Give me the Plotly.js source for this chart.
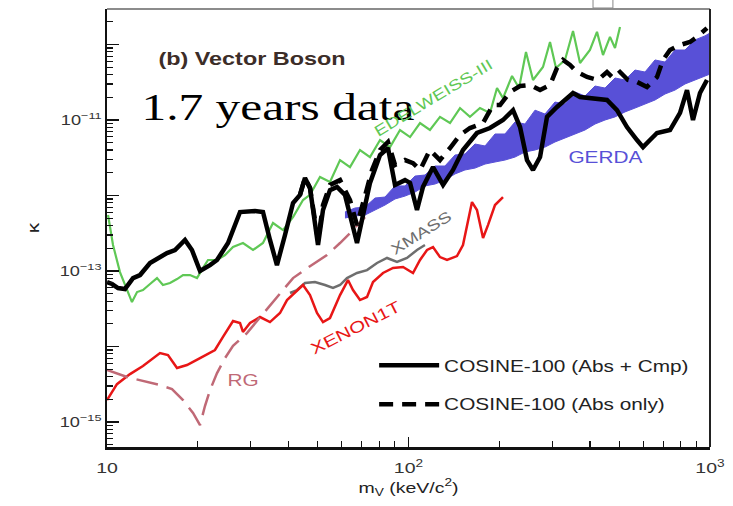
<!DOCTYPE html>
<html>
<head>
<meta charset="utf-8">
<script src="https://cdn.plot.ly/plotly-3.0.1.min.js"></script>
<style>
  html, body { margin: 0; padding: 0; background: #fff; }
  #chart { width: 733px; height: 506px; }
</style>
</head>
<body>
<div id="chart"></div>
<script>
// ---- Data (mass in keV/c^2, kappa dimensionless) ----
const cosineAbsCmpMass = [10.0,10.39,10.88,11.47,12.20,12.87,13.89,14.99,15.81,16.81,18.14,19.13,20.35,21.96,23.17,25.20,26.58,27.62,30.97,32.91,34.72,36.62,38.94,41.40,43.66,45.36,47.13,50.10,52.05,54.90,57.93,61.56,67.48,70.65,74.53,80.46,85.51,90.21,97.36,101.2,106.7,111.7,120.6,130.2,140.5,151.6,168.7,186.3,205.8,222.2,234.4,247.2,258.8,273.1,288.0,310.9,351.3,370.6,455.3,491.5,530.4,572.7,599.6,632.4,667.2,736.8,795.4,838.9,878.2,926.4,977.2];
const cosineAbsCmpKappa = [7.15e-14,6.73e-14,5.96e-14,5.78e-14,8.07e-14,8.85e-14,1.28e-13,1.53e-13,1.73e-13,1.90e-13,2.58e-13,1.90e-13,1.0e-13,1.20e-13,1.40e-13,2.35e-13,4.06e-13,6.04e-13,6.23e-13,6.04e-13,2.58e-13,1.20e-13,3.0e-13,7.96e-13,1.02e-12,1.71e-12,1.26e-12,2.21e-13,6.43e-13,1.18e-12,1.30e-12,1.02e-12,2.35e-13,5.52e-13,1.47e-12,3.44e-12,4.26e-12,1.38e-12,1.60e-12,1.47e-12,6.43e-13,1.30e-12,2.38e-12,1.38e-12,2.18e-12,4.01e-12,6.73e-12,7.83e-12,1.0e-11,1.35e-11,8.07e-12,2.95e-12,2.18e-12,3.23e-12,1.10e-11,1.49e-11,2.28e-11,2.02e-11,1.84e-11,1.35e-11,8.07e-12,5.43e-12,4.38e-12,5.43e-12,6.73e-12,7.37e-12,1.24e-11,2.49e-11,1.0e-11,2.28e-11,3.39e-11];

const cosineAbsOnlyMass = [43.66,45.36,47.13,50.10,52.05,54.90,59.28,63.97,67.48,71.74,75.69,80.46,85.51,90.21,97.36,103.5,109.2,117.8,127.2,137.3,148.2,159.9,176.7,190.7,201.2,217.1,234.4,252.9,273.1,294.7,310.9,325.4,343.4,362.3,390.9,425.1,455.3,476.8,502.9,534.5,572.7,618.0,667.2,698.4,736.8,795.4,858.4,905.7,977.2];
const cosineAbsOnlyKappa = [1.02e-12,1.71e-12,1.26e-12,2.58e-13,7.48e-13,1.38e-12,1.60e-12,8.71e-13,4.06e-13,1.02e-12,2.18e-12,4.01e-12,5.12e-12,2.54e-12,2.95e-12,2.69e-12,2.18e-12,4.01e-12,2.95e-12,4.26e-12,6.33e-12,7.83e-12,9.13e-12,1.58e-11,1.58e-11,2.35e-11,2.82e-11,2.91e-11,2.49e-11,2.91e-11,4.89e-11,6.24e-11,5.35e-11,4.32e-11,3.71e-11,3.39e-11,4.32e-11,3.60e-11,4.32e-11,3.39e-11,3.19e-11,2.74e-11,3.71e-11,6.24e-11,8.45e-11,9.84e-11,1.08e-10,1.26e-10,1.65e-10];

const edelweissMass = [10.08,10.47,11.04,11.65,12.10,12.58,13.16,13.89,14.65,15.33,16.18,17.07,17.87,18.85,19.89,20.82,21.63,23.17,24.63,26.18,28.25,30.50,32.91,35.53,38.35,41.40,44.68,47.13,50.87,54.90,59.28,63.97,69.04,74.53,80.46,86.83,93.72,101.2,109.2,117.8,127.2,137.3,148.2,159.9,172.6,186.3,196.6,205.8,220.5,232.6,245.3,258.8,279.3,294.7,308.5,330.4,351.3,370.6,399.8,421.9,441.7,465.9,484.1,502.9];
const edelweissKappa = [5.52e-13,2.21e-13,9.70e-14,5.60e-14,3.88e-14,5.27e-14,5.60e-14,6.73e-14,8.07e-14,6.53e-14,6.93e-14,7.83e-14,8.85e-14,8.85e-14,8.07e-14,1.10e-13,1.40e-13,1.40e-13,1.63e-13,2.08e-13,2.35e-13,1.90e-13,2.35e-13,4.33e-13,3.49e-13,5.19e-13,8.71e-13,1.02e-12,1.76e-12,1.51e-12,2.95e-12,2.38e-12,4.01e-12,3.23e-12,5.43e-12,4.38e-12,7.37e-12,5.95e-12,9.13e-12,7.37e-12,1.10e-11,9.13e-12,1.44e-11,1.10e-11,1.44e-11,1.24e-11,2.65e-11,1.95e-11,3.83e-11,2.65e-11,7.96e-11,3.39e-11,5.04e-11,1.08e-10,4.89e-11,6.24e-11,1.51e-10,5.69e-11,8.45e-11,1.47e-10,7.26e-11,1.26e-10,9.0e-11,1.71e-10];

const gerdaMass = [61.56,66.46,71.74,77.44,83.58,90.21,97.36,105.1,113.4,122.4,132.1,142.6,153.9,166.2,179.4,193.6,208.9,225.5,243.4,262.8,283.6,306.1,330.4,356.6,384.9,415.5,448.5,484.1,522.5,563.9,608.7,657.0,709.1,765.4,826.2,891.7,962.5,1000];
const gerdaUpper = [6.04e-13,6.83e-13,7.05e-13,9.27e-13,9.55e-13,1.34e-12,1.34e-12,1.81e-12,1.87e-12,2.46e-12,2.46e-12,3.44e-12,3.55e-12,4.81e-12,4.53e-12,6.53e-12,6.53e-12,9.41e-12,8.85e-12,1.35e-11,1.20e-11,1.73e-11,1.63e-11,2.35e-11,2.08e-11,2.82e-11,2.65e-11,3.60e-11,3.39e-11,4.59e-11,4.32e-11,6.24e-11,5.86e-11,8.45e-11,8.45e-11,1.15e-10,1.30e-10,1.42e-10];
const gerdaLower = [5.04e-13,5.35e-13,5.52e-13,6.43e-13,7.48e-13,9.0e-13,9.84e-13,1.11e-12,1.34e-12,1.42e-12,1.60e-12,1.93e-12,2.18e-12,2.31e-12,2.61e-12,2.78e-12,2.95e-12,3.23e-12,3.77e-12,4.01e-12,4.38e-12,5.12e-12,5.78e-12,6.53e-12,7.37e-12,8.85e-12,1.0e-11,1.10e-11,1.28e-11,1.44e-11,1.63e-11,1.84e-11,2.21e-11,2.49e-11,3.0e-11,3.39e-11,3.83e-11,4.06e-11];

const xenonMass = [10.0,10.79,11.92,13.16,14.99,15.93,17.07,18.42,20.35,22.81,24.25,26.18,27.62,28.25,29.81,32.17,34.72,37.48,39.54,42.68,44.68,47.13,49.72,52.05,54.90,59.28,63.0,65.45,69.04,72.85,76.26,82.32,88.84,95.90,103.5,109.2,115.2,120.6,127.2,134.2,144.8,151.6,157.5,162.4,168.7,176.7,183.5,193.6,205.8];
const xenonKappa = [1.96e-15,3.18e-15,4.32e-15,5.52e-15,8.20e-15,7.71e-15,5.19e-15,5.69e-15,7.05e-15,9.0e-15,1.34e-14,2.18e-14,2.05e-14,1.56e-14,2.05e-14,2.46e-14,2.11e-14,2.78e-14,4.13e-14,5.60e-14,6.53e-14,4.81e-14,2.78e-14,2.11e-14,2.38e-14,4.81e-14,7.60e-14,5.60e-14,4.13e-14,4.53e-14,7.15e-14,9.42e-14,1.10e-13,1.13e-13,9.42e-14,1.40e-13,1.90e-13,2.08e-13,1.53e-13,1.40e-13,1.58e-13,2.21e-13,4.46e-13,8.20e-13,6.43e-13,2.74e-13,4.06e-13,7.48e-13,9.55e-13];

const xmassMass = [40.46,42.68,45.36,48.96,52.85,56.18,59.28,62.52,67.48,72.85,78.63,84.87,91.60,98.86,106.7,113.4];
const xmassKappa = [5.12e-14,5.60e-14,6.93e-14,7.15e-14,6.53e-14,5.96e-14,6.53e-14,8.07e-14,9.42e-14,1.03e-13,1.28e-13,1.49e-13,1.32e-13,1.49e-13,1.90e-13,2.21e-13];

const rgMass = [10.0,11.65,14.99,16.43,17.87,19.29,20.35,21.13,21.96,23.17,24.63,26.18,29.12,32.66,36.62,41.40,47.13,53.66,59.28,63.97,71.74];
const rgKappa = [4.89e-15,3.95e-15,3.09e-15,2.74e-15,1.96e-15,1.32e-15,9.12e-16,1.63e-15,2.65e-15,4.46e-15,7.05e-15,1.02e-14,1.51e-14,2.61e-14,4.38e-14,8.07e-14,1.16e-13,1.63e-13,2.35e-13,3.18e-13,5.19e-13];

const xTickVals = [10, 100, 1000];
const xTickText = ['10', '10<sup>2</sup>', '10<sup>3</sup>'];
const yTickVals = [1e-15, 1e-14, 1e-13, 1e-12, 1e-11, 1e-10];
const yTickText = ['10<sup>\u221215</sup>', '', '10<sup>\u221213</sup>', '', '10<sup>\u221211</sup>', ''];

// minor tick positions (axis styling)
function minorTicks(lo, hi) {
  const out = [];
  for (let e = lo; e <= hi; e++) for (let k = 2; k <= 9; k++) out.push(k * Math.pow(10, e));
  return out;
}

const SANS = 'Liberation Sans, Arial, Helvetica, sans-serif';
const GREEN = 'rgb(95,200,85)';
const BLUE = 'rgb(88,80,215)';
const RED = 'rgb(232,22,22)';
const GRAY = 'rgb(110,110,110)';
const ROSE = 'rgb(192,105,118)';

const traces = [
  { x: gerdaMass, y: gerdaLower, mode: 'lines', line: { color: BLUE, width: 1 }, showlegend: false, hoverinfo: 'skip' },
  { x: gerdaMass, y: gerdaUpper, mode: 'lines', line: { color: BLUE, width: 1 }, fill: 'tonexty', fillcolor: BLUE, showlegend: false, hoverinfo: 'skip' },
  { x: edelweissMass, y: edelweissKappa, mode: 'lines', line: { color: GREEN, width: 2.2 }, showlegend: false },
  { x: xmassMass, y: xmassKappa, mode: 'lines', line: { color: GRAY, width: 2.5 }, showlegend: false },
  { x: xenonMass, y: xenonKappa, mode: 'lines', line: { color: RED, width: 2.5 }, showlegend: false },
  { x: rgMass, y: rgKappa, mode: 'lines', line: { color: ROSE, width: 2.5, dash: '22px,9px' }, showlegend: false },
  { x: cosineAbsCmpMass, y: cosineAbsCmpKappa, mode: 'lines', name: 'COSINE-100 (Abs + Cmp)', legendgroup: 'a',
    line: { color: '#000', width: 4.5 } },
  { x: cosineAbsOnlyMass, y: cosineAbsOnlyKappa, mode: 'lines', name: 'COSINE-100 (Abs only)', legendgroup: 'b',
    line: { color: '#000', width: 4.5, dash: '14px,9px' } }
];

const ann = (x, y, text, size, color, extra) => Object.assign({
  xref: 'paper', yref: 'paper', x: x, y: y, xanchor: 'center', yanchor: 'middle',
  text: text, showarrow: false, font: { size: size, color: color, family: SANS }
}, extra || {});

const layout = {
  width: 733, height: 506,
  margin: { l: 107, r: 23, t: 9, b: 59 },
  paper_bgcolor: '#fff', plot_bgcolor: '#fff',
  font: { family: SANS, color: '#222' },
  showlegend: true,
  legend: {
    x: 0.443, y: 0.225, xanchor: 'left', yanchor: 'top',
    bgcolor: 'rgba(0,0,0,0)', font: { size: 16, color: '#222', family: SANS },
    itemwidth: 60, tracegroupgap: 15
  },
  xaxis: {
    type: 'log', range: [1, 3],
    showgrid: false, zeroline: false,
    showline: true, linecolor: '#111', linewidth: 2.5,
    ticks: 'inside', ticklen: 10, tickwidth: 1.5, tickcolor: '#111',
    tickmode: 'array', tickvals: xTickVals, ticktext: xTickText,
    tickfont: { size: 15, color: '#333', family: SANS },
    ticklabelstandoff: 6,
    minor: { ticks: 'inside', ticklen: 6, tickwidth: 1.2, tickcolor: '#111', tickmode: 'array', tickvals: minorTicks(1, 2), showgrid: false },
    title: { text: 'm<sub>V</sub> (keV/c<sup>2</sup>)', font: { size: 15, color: '#222', family: SANS }, standoff: 4 }
  },
  yaxis: {
    type: 'log', range: [-15.33, -9.53],
    showgrid: false, zeroline: false,
    showline: true, linecolor: '#111', linewidth: 2.5,
    ticks: 'inside', ticklen: 12, tickwidth: 1.5, tickcolor: '#111',
    tickmode: 'array', tickvals: yTickVals, ticktext: yTickText,
    tickfont: { size: 14, color: '#333', family: SANS },
    minor: { ticks: 'inside', ticklen: 6, tickwidth: 1.2, tickcolor: '#111', tickmode: 'array', tickvals: minorTicks(-16, -10), showgrid: false },
    title: { text: '\u03ba', font: { size: 16, color: '#222', family: SANS }, standoff: 26 }
  },
  annotations: [
    ann(0.2405, 0.886, '<b>(b) Vector Boson</b>', 18, 'rgb(60,45,40)'),
    Object.assign(ann(0.283, 0.776, '1.7 years data', 38, '#000'),
      { font: { size: 38, color: '#000', family: 'Liberation Serif, Times New Roman, serif' } }),
    ann(0.541, 0.799, 'EDELWEISS-III', 15, GREEN, { textangle: -31 }),
    ann(0.826, 0.662, 'GERDA', 16, BLUE),
    ann(0.521, 0.489, 'XMASS', 15, GRAY, { textangle: -32 }),
    ann(0.413, 0.272, 'XENON1T', 16, RED, { textangle: -27 }),
    ann(0.2255, 0.151, 'RG', 16, ROSE)
  ],
  shapes: [
    // top and right frame of the plot area
    { type: 'line', xref: 'paper', yref: 'paper', x0: 0, x1: 1, y0: 1, y1: 1, line: { color: '#666', width: 1.5 } },
    { type: 'line', xref: 'paper', yref: 'paper', x0: 1, x1: 1, y0: 0, y1: 1, line: { color: '#222', width: 2 } },
    // small box above the frame seen in the reference
    { type: 'rect', xref: 'paper', yref: 'paper', x0: 0.806, x1: 0.839, y0: 1.0023, y1: 1.03,
      line: { color: '#888', width: 1 }, fillcolor: 'rgba(0,0,0,0)' }
  ]
};

// the reference picture is widened horizontally; widen the texts the same way
function widenTexts(gd, s) {
  // the legend clips its items to the unwidened size; lift that clip
  gd.querySelectorAll('.legend [clip-path], .legend .scrollbox').forEach(function (el) {
    el.removeAttribute('clip-path');
  });
  gd.querySelectorAll('svg.main-svg text').forEach(function (t) {
    if (!t.textContent.trim()) return;
    let bb;
    try { bb = t.getBBox(); } catch (e) { return; }
    if (!bb || !bb.width) return;
    const anchor = t.getAttribute('text-anchor') || 'start';
    const ox = anchor === 'end' ? bb.x + bb.width : (anchor === 'middle' ? bb.x + bb.width / 2 : bb.x);
    const oy = bb.y + bb.height / 2;
    const prev = t.getAttribute('transform') || '';
    t.setAttribute('transform', prev + ' translate(' + ox + ',' + oy + ') scale(' + s + ',1) translate(' + (-ox) + ',' + (-oy) + ')');
  });
}

Plotly.newPlot('chart', traces, layout, { displayModeBar: false, staticPlot: true }).then(function (gd) {
  widenTexts(gd, 1.3);
});
</script>
</body>
</html>
